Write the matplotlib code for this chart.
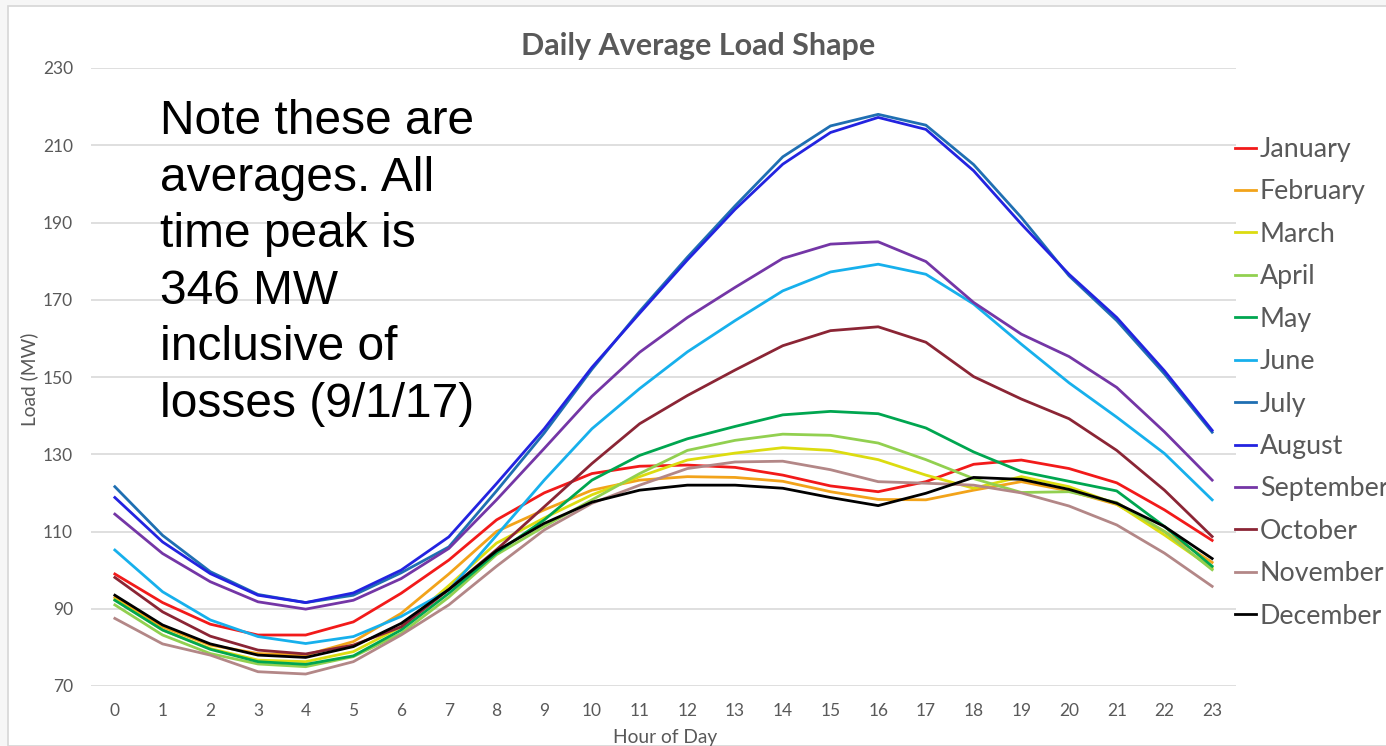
import matplotlib
matplotlib.use("Agg")
import matplotlib.pyplot as plt
from matplotlib.patches import Rectangle

hours = list(range(24))
months = ["January", "February", "March", "April", "May", "June", "July",
          "August", "September", "October", "November", "December"]

january = [99, 91.6, 86, 83.2, 83.2, 86.6, 94, 102.6, 113, 120, 125, 126.9, 127.2, 126.6, 124.6, 121.8, 120.3, 122.9, 127.4, 128.5, 126.3, 122.6, 115.6, 107.7]
february = [92.9, 85.3, 80.6, 78.4, 78, 81.5, 88.8, 99, 110, 115.6, 120.7, 123.3, 124.2, 124, 123, 120.3, 118.3, 118.2, 120.7, 122.9, 120.5, 117, 110, 102]
march = [92.4, 84.5, 79.7, 76.7, 76.3, 78.9, 85.3, 96, 107, 113.5, 119.5, 124.2, 128.5, 130.3, 131.7, 131, 128.6, 124.6, 121.2, 124.2, 121.6, 117.1, 109.1, 100.5]
april = [91, 83.2, 78.4, 75.7, 75, 77.6, 83.6, 93, 104, 111.3, 118.2, 125, 131, 133.6, 135.2, 134.9, 132.9, 128.6, 123.7, 120.1, 120.3, 117.5, 110, 100.1]
may = [92.2, 84.5, 79.5, 76.3, 75.6, 77.8, 84.5, 94, 104.5, 113, 123.3, 129.7, 134, 137.2, 140.2, 141.1, 140.5, 136.8, 130.6, 125.5, 123, 120.5, 111.3, 101]
june = [105.2, 94.4, 87.1, 82.8, 81, 82.8, 88, 94.8, 109, 123.3, 136.6, 147, 156.5, 164.6, 172.3, 177.2, 179.2, 176.6, 168.9, 158.5, 148.5, 139.6, 130.2, 118.2]
july = [121.6, 109, 99.6, 93.7, 91.6, 93.5, 99.3, 106, 120.5, 135.5, 152, 167, 181, 194.3, 207, 215, 218, 215.2, 205, 191.3, 176.2, 164.6, 150.8, 135.7]
august = [118.8, 107.3, 99.1, 93.5, 91.6, 94.1, 100, 108.6, 122.4, 136.6, 152.5, 166.5, 180.3, 193.4, 205.1, 213.3, 217.2, 214.1, 203.4, 189.6, 176.6, 165.4, 151.6, 136.2]
september = [114.5, 104.3, 97, 91.8, 89.9, 92.2, 97.8, 105.6, 118.2, 131.5, 145, 156.4, 165.4, 173.2, 180.7, 184.4, 185, 179.9, 169.3, 161.1, 155.3, 147.3, 135.8, 123.3]
october = [98.1, 89.2, 82.9, 79.3, 78.3, 80.6, 85.3, 95, 105.3, 116.4, 127.6, 137.9, 145.2, 151.8, 158.1, 162, 163, 159, 150.1, 144.3, 139.2, 131, 120.7, 108.7]
november = [87.5, 80.9, 78, 73.7, 73.1, 76.3, 83.2, 91, 101, 110.4, 117.3, 122, 126.3, 128, 128.2, 126, 122.9, 122.5, 122, 120, 116.6, 111.7, 104.4, 95.8]
december = [93.5, 85.8, 80.9, 78, 77.4, 80.2, 86.2, 95, 105, 112.1, 117.6, 120.7, 122, 122, 121.2, 118.8, 116.7, 119.9, 124, 123.5, 120.9, 117.3, 111.3, 103]

series = [january, february, march, april, may, june, july, august,
          september, october, november, december]
colors = ["#F21A1A", "#F2A31A", "#DCDC10", "#92D050", "#00A650", "#17B0EC",
          "#1F6FB2", "#2323E0", "#7436A6", "#8B2535", "#B38787", "#000000"]

yticks = [70, 90, 110, 130, 150, 170, 190, 210, 230]

W, H = 1386, 746
fig = plt.figure(figsize=(W / 100, H / 100), dpi=100, facecolor="#F6F6F6")
# slide frame
fig.patches.append(Rectangle((7.5 / W, 0), 1.0, 1 - 5.5 / H, transform=fig.transFigure,
                             facecolor="white", edgecolor="#D6D6D6", lw=1.2, zorder=-10))

ax = fig.add_axes([91 / W, (H - 686) / H, (1236 - 91) / W, (686 - 68) / H])
ax.set_facecolor("none")

for vals, name, c in zip(series, months, colors):
    ax.plot(hours, vals, color=c, lw=2.0, label=name, solid_joinstyle="round")

ax.set_xlim(-0.5, 23.5)
ax.set_ylim(70, 230)
ax.set_yticks(yticks)
ax.set_xticks(hours)
ax.grid(axis="y", color="#D9D9D9", lw=1.2)
ax.set_axisbelow(True)
for s in ax.spines.values():
    s.set_visible(False)
ax.tick_params(length=0, colors="#595959", labelsize=12.5)
ax.tick_params(axis="y", pad=13)
ax.tick_params(axis="x", pad=12)
for lab in ax.get_xticklabels() + ax.get_yticklabels():
    lab.set_family("Lato")

ax.set_xlabel("Hour of Day", fontsize=13.8, color="#595959", family="Lato", va="center")
ax.xaxis.set_label_coords((665 - 91) / 1145, (686 - 737) / 618)
ax.set_ylabel("Load (MW)", fontsize=13.8, color="#595959", family="Lato", va="center")
ax.yaxis.set_label_coords((29 - 91) / 1145, (686 - 379) / 618)

fig.text(698 / W, 1 - 46 / H, "Daily Average Load Shape", ha="center", va="center",
         fontsize=22, fontweight="bold", color="#595959", family="Lato")

fig.text(160 / W, 1 - 99 / H,
         "Note these are\naverages. All\ntime peak is\n346 MW\ninclusive of\nlosses (9/1/17)",
         ha="left", va="top", fontsize=34.5, color="black", family="Liberation Sans",
         linespacing=1.33)

leg = fig.legend(loc="upper left", bbox_to_anchor=(1235 / W, 1 - 137 / H),
                 frameon=False, handlelength=0.78, handletextpad=0.15,
                 labelspacing=0.65, borderaxespad=0, borderpad=0,
                 prop={"family": "Lato", "size": 19.3})
for t in leg.get_texts():
    t.set_color("#595959")
for l in leg.get_lines():
    l.set_linewidth(2.0)

fig.savefig("out.png", dpi=100, facecolor=fig.get_facecolor())
